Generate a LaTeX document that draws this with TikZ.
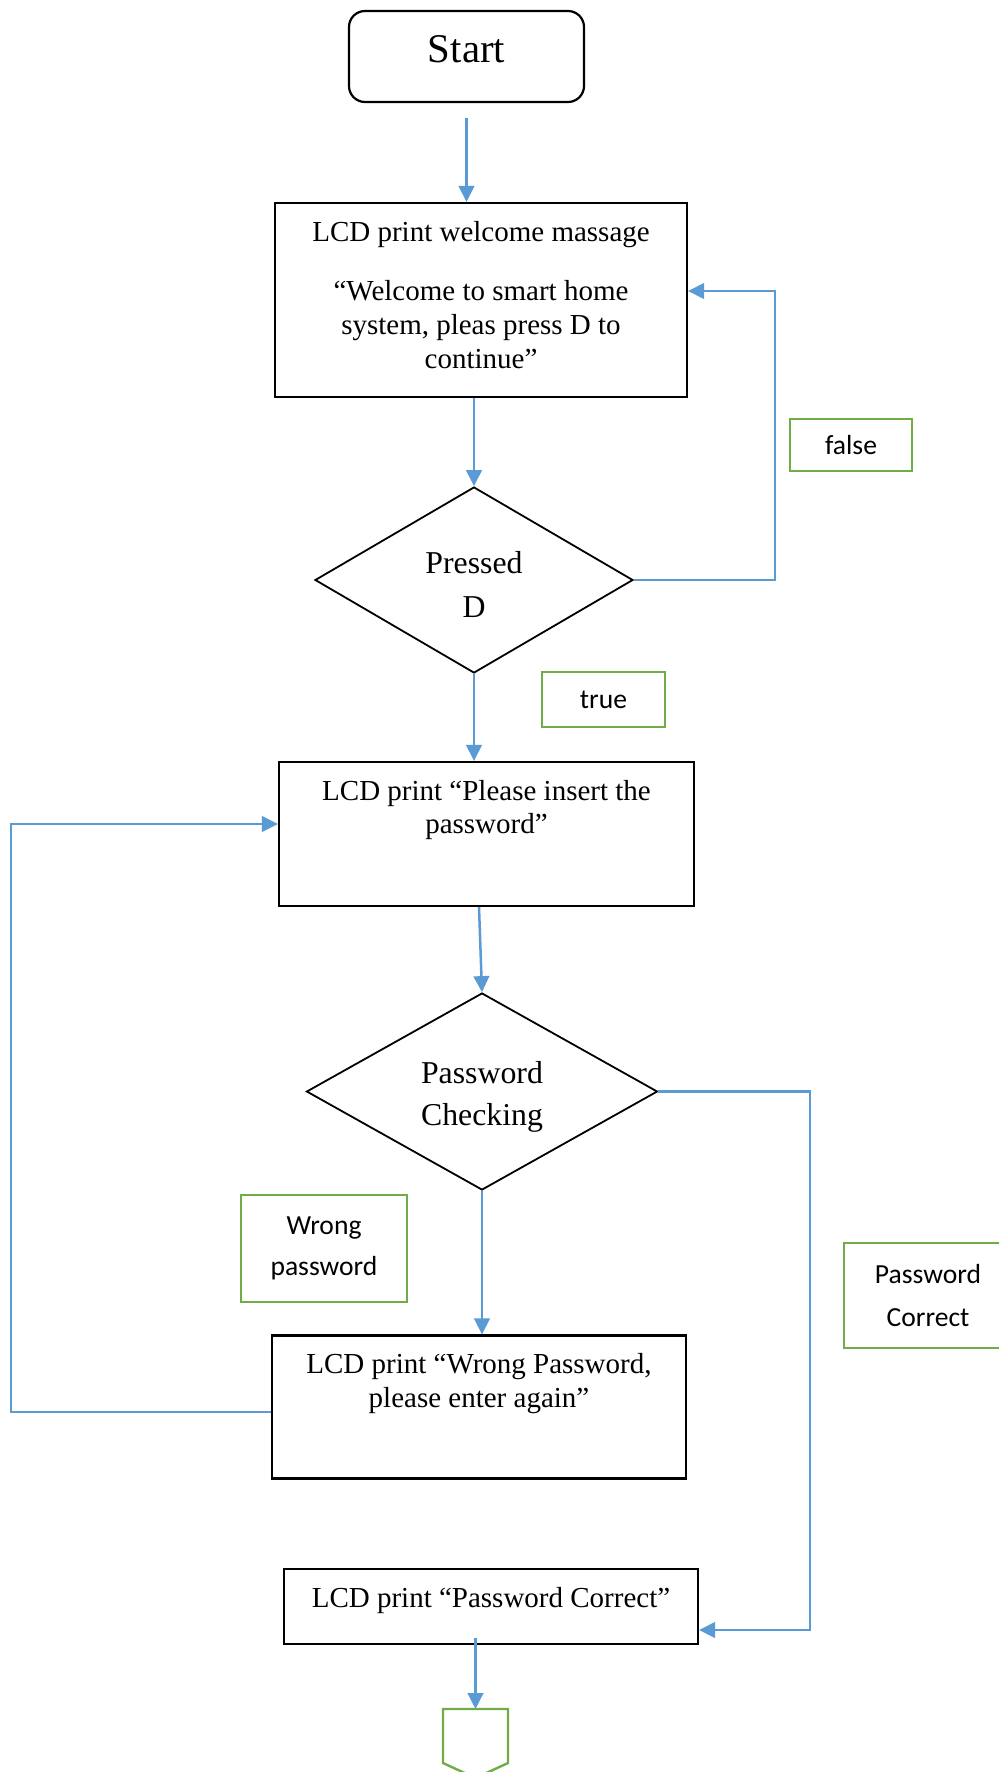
\documentclass[tikz,border=0pt]{standalone}
\usepackage{fontspec}
\setmainfont{Liberation Serif}
\newfontfamily\labelfont{Carlito}
\usetikzlibrary{shapes,arrows.meta,positioning,calc}
\definecolor{flowblue}{HTML}{5B9BD5}
\definecolor{taggreen}{HTML}{70AD47}

\begin{document}
\begin{tikzpicture}[x=0.5pt, y=-0.5pt,
    procbox/.style={draw=black, line width=1.1pt, rectangle, inner sep=0pt},
    decision/.style={draw=black, line width=0.9pt, diamond, inner sep=0pt},
    boxtext/.style={inner sep=0pt, align=center, font=\fontsize{14.5}{17}\selectfont},
    tagbox/.style={draw=taggreen, line width=1.2pt, inner sep=0pt, align=center, font=\labelfont\fontsize{13.8}{20.5}\selectfont},
    flow/.style={draw=flowblue, line width=1.25pt, -{Triangle[length=8pt,width=7.8pt]}}]
\useasboundingbox (0,0) rectangle (999,1772);
\clip (0,0) rectangle (999,1772);
\fill[white] (0,0) rectangle (999,1772);

% boxes
\node[procbox, rounded corners=8pt, minimum width=117.5pt, minimum height=45.5pt] (start) at (466.5,56.5) {};
\node[boxtext, anchor=base, font=\fontsize{20.4}{24}\selectfont] (starttext) at (466.5,62) {Start};

\node[procbox, minimum width=206pt, minimum height=97pt] (welcome) at (481,300) {};
\node[boxtext, anchor=north] (welcometext) at (481,221) {LCD print welcome massage\\[12.5pt]“Welcome to smart home\\system, pleas press D to\\continue”};

\node[decision, minimum width=159pt, minimum height=93pt] (pressed) at (474,580) {};
\node[boxtext, anchor=north, font=\fontsize{15.9}{22}\selectfont] (pressedtext) at (474,551) {Pressed\\D};

\node[procbox, minimum width=207.5pt, minimum height=72pt] (insert) at (486.5,834) {};
\node[boxtext, anchor=north, font=\fontsize{14.5}{16.5}\selectfont] (inserttext) at (486.5,780) {LCD print “Please insert the\\password”};

\node[decision, minimum width=175.5pt, minimum height=98.5pt] (check) at (482,1091.5) {};
\node[boxtext, anchor=north, font=\fontsize{15.9}{21}\selectfont] (checktext) at (482,1061) {Password\\Checking};

\node[procbox, minimum width=207pt, minimum height=71.5pt] (wrong) at (479,1407) {};
\node[boxtext, anchor=north] (wrongtext) at (479,1353) {LCD print “Wrong Password,\\please enter again”};

\node[procbox, minimum width=207pt, minimum height=37.5pt] (correct) at (491,1606.5) {};
\node[boxtext, anchor=base] (correcttext) at (491,1607) {LCD print “Password Correct”};

% off-page connector
\draw[draw=taggreen, line width=1.2pt] (443,1709) -- (508,1709) -- (508,1763) -- (475.5,1778) -- (443,1763) -- cycle;
\coordinate (offpage) at (475.5,1709);

% labels
\node[tagbox, minimum width=61pt, minimum height=26pt] (falsetag) at (851,445) {false};
\node[tagbox, minimum width=61.5pt, minimum height=27.5pt] (truetag) at (603.5,699.5) {true};
\node[tagbox, minimum width=83pt, minimum height=53.5pt] (wrongtag) at (324,1248.5) {Wrong\\password};
\node[tagbox, minimum width=84pt, minimum height=52.5pt, font=\labelfont\fontsize{13.8}{21.5}\selectfont] (oktag) at (928,1295.5) {Password\\Correct};

% turning points
\coordinate (falseturn) at (775,291);
\coordinate (okturn) at (810,1630);
\coordinate (wrongturn) at (11,824);

% connectors
\draw[flow] ([yshift=-7.5pt]start.south) -- (start.south |- welcome.north);
\draw[flow] (welcome.south -| pressed.north) -- (pressed.north);
\draw[flow] (pressed.east) -| (falseturn) -- ([yshift=4.5pt]welcome.east);
\draw[flow] (pressed.south) -- (insert.north -| pressed.south);
\draw[flow] ([xshift=-3.75pt]insert.south) -- (check.north);
\draw[flow] (check.east) -| (okturn) -- ([yshift=-11.75pt]correct.east);
\draw[flow] (check.south) -- (wrong.north -| check.south);
\draw[flow] ([yshift=-2.5pt]wrong.west) -| (wrongturn) -- ([yshift=5pt]insert.west);
\draw[flow] ($(correct.south -| offpage)+(0,-7)$) -- (offpage);
\end{tikzpicture}
\end{document}
